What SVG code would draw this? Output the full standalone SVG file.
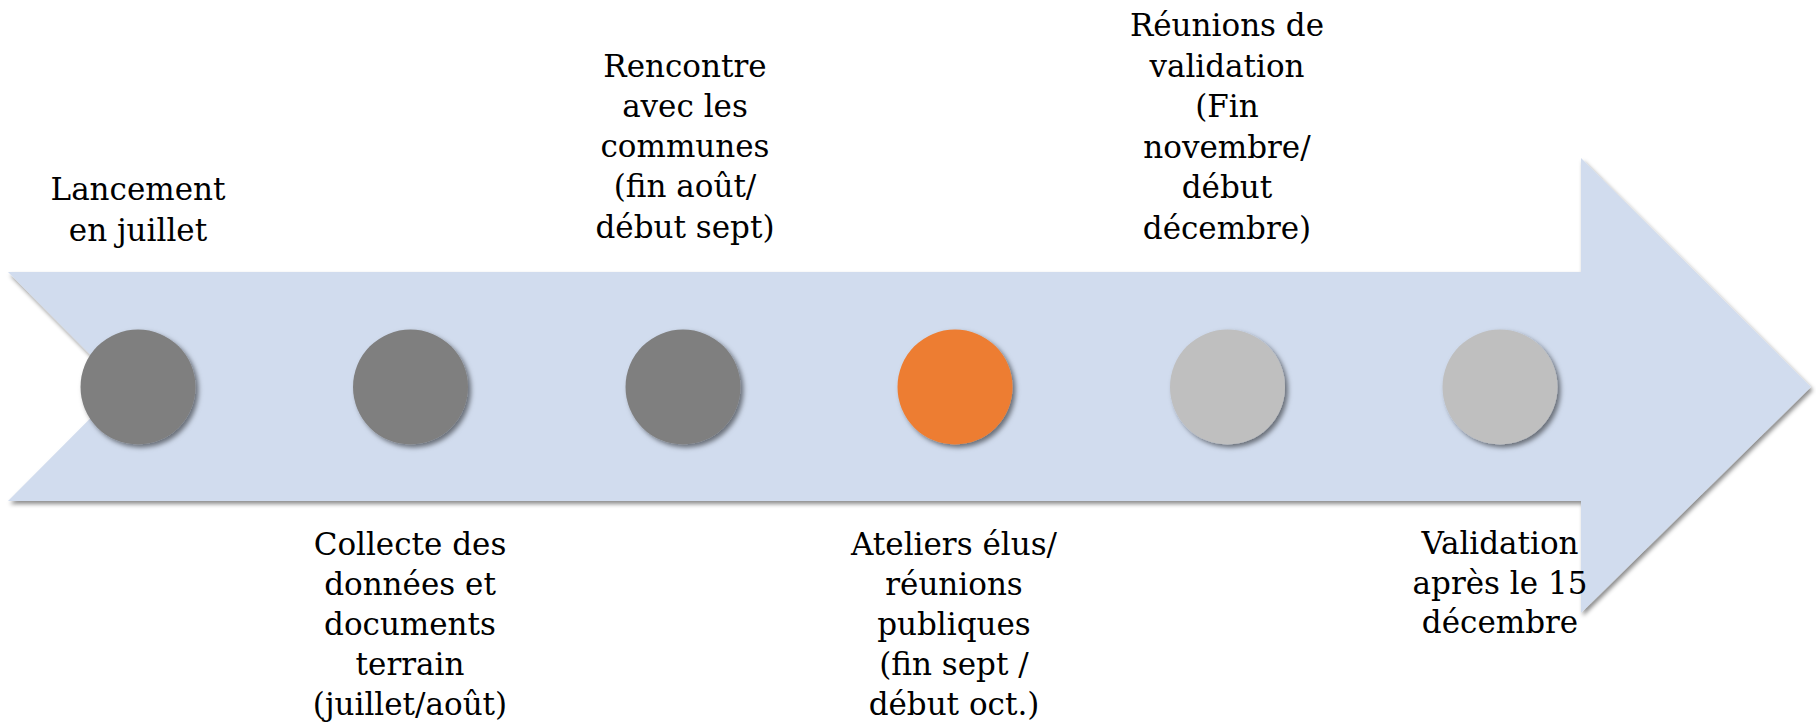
<svg xmlns="http://www.w3.org/2000/svg" width="1816" height="725" viewBox="0 0 1816 725">
  <defs>
    <filter id="sh" x="-10%" y="-10%" width="120%" height="130%">
      <feDropShadow dx="2" dy="3" stdDeviation="2" flood-color="#000" flood-opacity="0.45"/>
    </filter>
    <filter id="csh" x="-30%" y="-30%" width="160%" height="160%">
      <feDropShadow dx="3" dy="3" stdDeviation="2.5" flood-color="#000" flood-opacity="0.5"/>
    </filter>
  </defs>
  <style>
    .lbl { font-family: "DejaVu Serif", "Liberation Serif", serif; font-size: 31px; fill: #000; text-anchor: middle; }
    .dark { fill: #7F7F7F; filter: url(#csh); }
    .orange { fill: #ED7D31; filter: url(#csh); }
    .light { fill: #BFBFBF; filter: url(#csh); }
  </style>
  <rect width="1816" height="725" fill="#FFFFFF"/>
  <g id="connectors">
    <polygon id="timeline-arrow" points="8,272 1581,272 1581,158 1811,387 1581,613 1581,501 8,501 122,386.5" fill="#D1DCEE" filter="url(#sh)"/>
  </g>
  <g id="node1">
    <circle class="dark" cx="138" cy="387" r="57.5"/>
    <text class="lbl" x="138"><tspan x="138" y="200">Lancement</tspan><tspan x="138" y="241">en juillet</tspan></text>
  </g>
  <g id="node2">
    <circle class="dark" cx="410.5" cy="387" r="57.5"/>
    <text class="lbl"><tspan x="410" y="555">Collecte des</tspan><tspan x="410" y="595">données et</tspan><tspan x="410" y="635">documents</tspan><tspan x="410" y="675">terrain</tspan><tspan x="410" y="715">(juillet/août)</tspan></text>
  </g>
  <g id="node3">
    <circle class="dark" cx="683" cy="387" r="57.5"/>
    <text class="lbl"><tspan x="685" y="77">Rencontre</tspan><tspan x="685" y="117">avec les</tspan><tspan x="685" y="157">communes</tspan><tspan x="685" y="197">(fin août/</tspan><tspan x="685" y="238">début sept)</tspan></text>
  </g>
  <g id="node4">
    <circle class="orange" cx="955" cy="387" r="57.5"/>
    <text class="lbl"><tspan x="954" y="555">Ateliers élus/</tspan><tspan x="954" y="595">réunions</tspan><tspan x="954" y="635">publiques</tspan><tspan x="954" y="675">(fin sept /</tspan><tspan x="954" y="715">début oct.)</tspan></text>
  </g>
  <g id="node5">
    <circle class="light" cx="1227.5" cy="387" r="57.5"/>
    <text class="lbl"><tspan x="1227" y="36">Réunions de</tspan><tspan x="1227" y="77">validation</tspan><tspan x="1227" y="117">(Fin</tspan><tspan x="1227" y="158">novembre/</tspan><tspan x="1227" y="198">début</tspan><tspan x="1227" y="239">décembre)</tspan></text>
  </g>
  <g id="node6">
    <circle class="light" cx="1500" cy="387" r="57.5"/>
    <text class="lbl"><tspan x="1500" y="554">Validation</tspan><tspan x="1500" y="594">après le 15</tspan><tspan x="1500" y="633">décembre</tspan></text>
  </g>
</svg>
